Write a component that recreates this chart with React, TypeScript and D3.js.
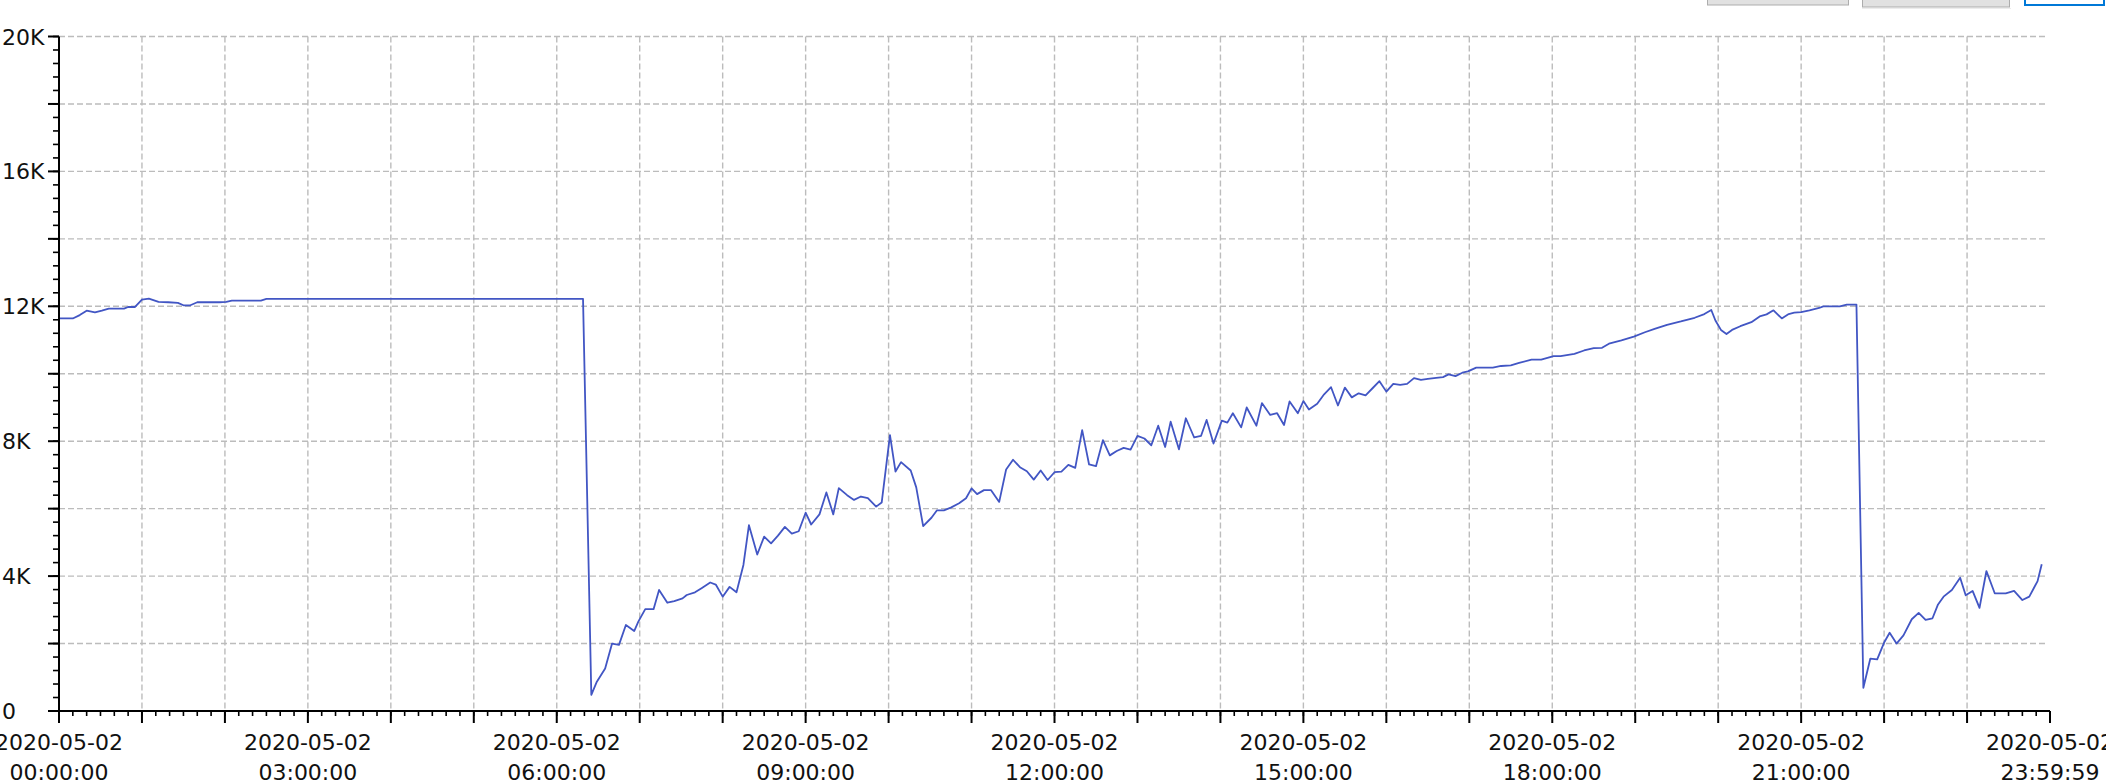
import React, { useEffect } from 'react';
import * as d3 from 'd3';

// ---- data (time of day, value) ----
const times: string[] = [
  '00:00','00:10','00:15','00:20','00:26','00:31','00:36','00:41','00:47','00:50','00:55',
  '01:00','01:05','01:12','01:19','01:26','01:30','01:35','01:40','01:47','01:56','02:01','02:05','02:12','02:19','02:26','02:30',
  '06:19',
  '06:25','06:29','06:35','06:40','06:45','06:50','06:56','06:59','07:04','07:10','07:14','07:20','07:25','07:31','07:34','07:40','07:45','07:51','07:55',
  '08:00','08:05','08:10','08:15','08:19','08:25','08:30','08:35','08:40','08:45','08:50','08:55',
  '09:00','09:04','09:10','09:15','09:20','09:24','09:30','09:35','09:40','09:45','09:51','09:55',
  '10:01','10:05','10:09','10:16','10:20','10:25','10:31','10:35','10:40','10:45','10:51','10:56',
  '11:00','11:04','11:09','11:14','11:20','11:25','11:30','11:35','11:40','11:45','11:50','11:55',
  '12:00','12:05','12:10','12:15','12:20','12:25','12:30','12:35','12:40','12:45','12:50','12:55',
  '13:00','13:05','13:10','13:15','13:20','13:24','13:30','13:35','13:41','13:46','13:50','13:55',
  '14:01','14:05','14:09','14:15','14:19','14:26','14:30','14:36','14:41','14:46','14:50','14:56',
  '15:00','15:04','15:10','15:15','15:20','15:25','15:30','15:35','15:40','15:45','15:50','15:55',
  '16:00','16:05','16:10','16:15','16:20','16:25','16:30','16:36','16:41','16:45','16:50','16:55',
  '16:59','17:05','17:11','17:17','17:23','17:30','17:36','17:45','17:52','18:01','18:06','18:16',
  '18:23','18:30','18:36','18:41','18:50','18:59','19:07','19:14','19:23','19:33','19:43','19:50','19:55',
  '19:58','20:02','20:06','20:10','20:16','20:24','20:30','20:35','20:40','20:46','20:51','20:55',
  '21:00','21:06','21:13','21:16','21:22','21:28','21:33','21:40',
  '21:45','21:50','21:55','22:00','22:04','22:09','22:14','22:20','22:25','22:30','22:35','22:39',
  '22:43','22:49','22:55','22:59','23:04','23:09','23:14','23:20','23:28','23:34','23:40','23:45',
  '23:49','23:51','23:54'
];

const values: number[] = [
  11640,11640,11740,11870,11820,11870,11930,11930,11930,11980,11980,
  12200,12230,12130,12120,12100,12030,12030,12120,12120,12120,12130,12170,12170,12170,12170,12220,
  12220,
  480,870,1260,2000,1960,2550,2370,2650,3020,3020,3590,3210,3260,3340,3440,3520,3650,3810,3750,
  3390,3680,3520,4330,5510,4640,5170,4970,5200,5460,5260,5330,
  5880,5530,5830,6480,5830,6610,6400,6260,6360,6310,6060,6180,
  8180,7100,7380,7130,6630,5480,5730,5950,5950,6030,6160,6310,
  6600,6430,6550,6550,6200,7160,7450,7230,7110,6860,7130,6850,
  7080,7100,7300,7210,8330,7310,7260,8030,7580,7710,7800,7750,
  8160,8080,7880,8460,7830,8580,7760,8680,8110,8160,8630,7930,
  8610,8550,8830,8410,9000,8460,9130,8780,8830,8480,9180,8830,
  9190,8940,9110,9390,9600,9060,9590,9300,9420,9360,9570,9780,
  9470,9700,9670,9700,9870,9820,9850,9880,9900,9980,9930,10030,
  10070,10180,10180,10180,10230,10250,10320,10420,10420,10520,10520,10590,
  10690,10760,10770,10890,10990,11100,11230,11330,11450,11550,11660,11770,11890,
  11580,11300,11180,11300,11410,11530,11700,11760,11880,11640,11770,11810,
  11830,11880,11950,12000,12000,12000,12050,12050,
  690,1550,1530,2030,2320,2000,2240,2720,2910,2700,2750,3160,
  3390,3590,3950,3430,3560,3060,4150,3490,3490,3560,3290,3390,
  3700,3850,4350
];

const yTickValues: number[] = [0, 4000, 8000, 12000, 16000, 20000];
const yTickLabels: string[] = ['0', '4K', '8K', '12K', '16K', '20K'];
const xLabelDates: string[] = ['2020-05-02','2020-05-02','2020-05-02','2020-05-02','2020-05-02','2020-05-02','2020-05-02','2020-05-02','2020-05-02'];
const xLabelTimes: string[] = ['00:00:00','03:00:00','06:00:00','09:00:00','12:00:00','15:00:00','18:00:00','21:00:00','23:59:59'];

const toDate = (hms: string) => {
  const p = hms.split(':').map(Number);
  return new Date(2020, 4, 2, p[0], p[1], p[2] || 0);
};

export default function App() {
  useEffect(() => {
    document.body.style.margin = '0';
    document.body.style.overflow = 'hidden';
  }, []);

  const W = 2106, H = 784;
  const left = 59, right = 2050, top = 36.5, bottom = 711;
  const x = d3.scaleTime().domain([toDate('00:00:00'), toDate('23:59:59')]).range([left, right]);
  const y = d3.scaleLinear().domain([0, 20000]).range([bottom, top]);

  const pts = times.map((t, i) => [toDate(t), values[i]] as [Date, number]);
  const line = d3.line<[Date, number]>().x(d => x(d[0])).y(d => y(d[1]));

  const hourTicks = d3.timeHour.range(toDate('01:00:00'), toDate('23:59:59'));
  const majorX = d3.timeHour.range(toDate('00:00:00'), toDate('23:59:59')).concat([toDate('23:59:59')]);
  const minorX = d3.timeMinute.every(10)!.range(toDate('00:00:00'), toDate('23:59:59'));
  const gridY = d3.range(2000, 20001, 2000);
  const majorY = d3.range(0, 20001, 2000);
  const minorY = d3.range(0, 20001, 400);

  const gridColor = '#bcbcbc';
  const font = '"DejaVu Sans", Verdana, sans-serif';

  return (
    <svg width={W} height={H} style={{ position: 'absolute', left: 0, top: 0, background: '#fff' }}>
      {/* buttons at top right */}
      <rect x={1707.5} y={-10} width={141} height={15} fill="#e1e1e1" stroke="#adadad" strokeWidth={1} />
      <rect x={1862.5} y={-10} width={147} height={17} fill="#e1e1e1" stroke="#adadad" strokeWidth={1} />
      <line x1={1862} x2={2011} y1={8.5} y2={8.5} stroke="#ececec" strokeWidth={1} />
      <rect x={2025} y={-10} width={79} height={15} fill="#ffffff" stroke="#0078d7" strokeWidth={2} />

      {/* grid */}
      <g stroke={gridColor} strokeWidth={1.4} strokeDasharray="6,3" fill="none">
        {gridY.map(v => (
          <line key={'gy' + v} x1={left} x2={right - 3} y1={y(v)} y2={y(v)} />
        ))}
        {hourTicks.map(d => (
          <line key={'gx' + +d} x1={x(d)} x2={x(d)} y1={top} y2={bottom} />
        ))}
      </g>

      {/* data line */}
      <path d={line(pts) || ''} fill="none" stroke="#4256c4" strokeWidth={1.8} strokeLinejoin="round" />

      {/* axes */}
      <g stroke="#000" fill="none">
        <line x1={left} x2={right} y1={bottom} y2={bottom} strokeWidth={2} />
        <line x1={left} x2={left} y1={top} y2={bottom} strokeWidth={2} />
        {minorX.map(d => (
          <line key={'mx' + +d} x1={x(d)} x2={x(d)} y1={bottom} y2={bottom + 5} strokeWidth={1.6} />
        ))}
        {majorX.map(d => (
          <line key={'Mx' + +d} x1={x(d)} x2={x(d)} y1={bottom} y2={bottom + 12} strokeWidth={2} />
        ))}
        {minorY.map(v => (
          <line key={'my' + v} x1={left - 6} x2={left} y1={y(v)} y2={y(v)} strokeWidth={1.6} />
        ))}
        {majorY.map(v => (
          <line key={'My' + v} x1={left - 11} x2={left} y1={y(v)} y2={y(v)} strokeWidth={2} />
        ))}
      </g>

      {/* y labels */}
      <g fontFamily={font} fontSize={22} fill="#111">
        {yTickValues.map((v, i) => (
          <text key={'yl' + v} x={2} y={y(v) + 8}>{yTickLabels[i]}</text>
        ))}
      </g>

      {/* x labels */}
      <g fontFamily={font} fontSize={22} fill="#111" textAnchor="middle">
        {xLabelTimes.map((t, i) => (
          <text key={'xl' + i} x={x(toDate(t))} y={750}>
            <tspan x={x(toDate(t))} y={750}>{xLabelDates[i]}</tspan>
            <tspan x={x(toDate(t))} y={780}>{t}</tspan>
          </text>
        ))}
      </g>
    </svg>
  );
}
